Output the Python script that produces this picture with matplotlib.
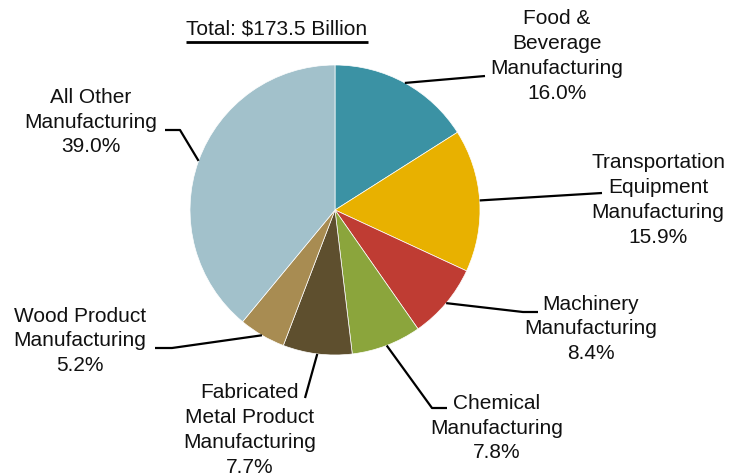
import matplotlib.pyplot as plt
import numpy as np

plt.rcParams['font.family'] = ['Liberation Sans', 'DejaVu Sans']

labels = ['Food &\nBeverage\nManufacturing',
          'Transportation\nEquipment\nManufacturing',
          'Machinery\nManufacturing',
          'Chemical\nManufacturing',
          'Fabricated\nMetal Product\nManufacturing',
          'Wood Product\nManufacturing',
          'All Other\nManufacturing']
shares = [16.0, 15.9, 8.4, 7.8, 7.7, 5.2, 39.0]
colors = ['#3b92a4', '#e8b100', '#bf3c33', '#8ba53c', '#5e4f2e', '#a88c52', '#a2c1cb']
title = 'Total: $173.5 Billion'

# layout in pixel coords (y down)
cx, cy, r = 335, 210, 145
text_pos = [(557, 56), (658, 200), (591, 329), (497, 428), (250, 430), (80, 341), (91, 122)]
elbows = [[(485, 76)],
          [(602, 193)],
          [(523, 312), (538, 312)],
          [(432, 408), (447, 408)],
          [(305, 398)],
          [(172, 348), (155, 348)],
          [(180, 130), (165, 130)]]

fig = plt.figure(figsize=(7.34, 4.76), dpi=100)
ax = fig.add_axes([0, 0, 1, 1])

ax.pie(shares, colors=colors, startangle=-90, counterclock=True,
       center=(cx, cy), radius=r, frame=True,
       wedgeprops=dict(edgecolor='white', linewidth=0.5))
ax.set_xlim(0, 734)
ax.set_ylim(476, 0)
ax.set_aspect('equal')
ax.axis('off')

cum = np.cumsum([0] + shares)
total = cum[-1]
for i, lab in enumerate(labels):
    mid = (cum[i] + cum[i + 1]) / 2 / total
    th = np.deg2rad(-90 + 360 * mid)
    sx, sy = cx + r * np.cos(th), cy + r * np.sin(th)
    pts = [(sx, sy)] + elbows[i]
    ax.plot([p[0] for p in pts], [p[1] for p in pts], color='black', lw=1.6,
            solid_capstyle='butt')
    tx, ty = text_pos[i]
    ax.text(tx, ty, f'{lab}\n{shares[i]:.1f}%', ha='center', va='center',
            fontsize=15, linespacing=1.38, color='#111111')

t = ax.text(277, 29, title, ha='center', va='center', fontsize=15, color='#111111')
fig.canvas.draw()
bb = t.get_window_extent(fig.canvas.get_renderer())
ax.plot([bb.x0, bb.x1], [42, 42], color='black', lw=2, solid_capstyle='butt')

fig.savefig('out.png', dpi=100)
